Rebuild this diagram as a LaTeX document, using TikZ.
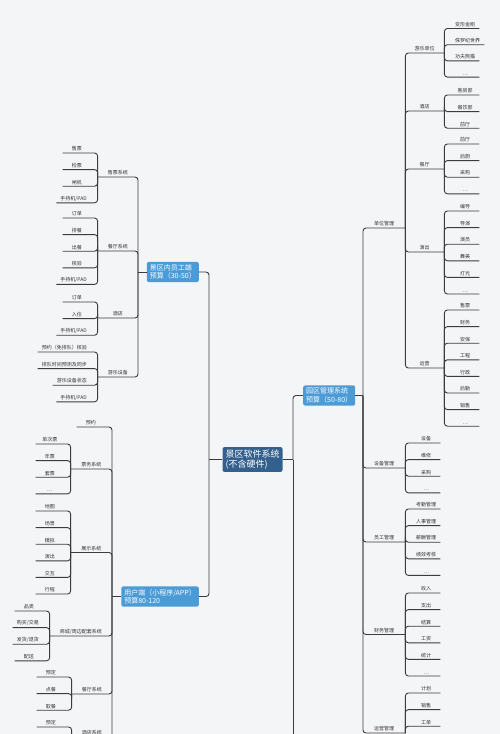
\documentclass[tikz,border=0pt]{standalone}
\usepackage{fontspec}
\setmainfont{Noto Sans CJK SC}
\usetikzlibrary{positioning}
\definecolor{bgpaper}{HTML}{F4F5F7}
\definecolor{linegray}{HTML}{3C3C3C}
\definecolor{txtgray}{HTML}{333333}
\definecolor{rootblue}{HTML}{34608E}
\definecolor{mainblue}{HTML}{4A9BD6}

\begin{document}
\begin{tikzpicture}[x=1pt, y=-1pt,
  conn/.style={draw=linegray, line width=0.9pt, rounded corners=3pt},
  leaf/.style={font=\fontsize{5}{6}\selectfont, text=txtgray, inner xsep=4pt, inner ysep=1.6pt, minimum width=28pt},
  lbl/.style={font=\fontsize{5}{6}\selectfont, text=txtgray, inner xsep=0pt, inner ysep=1.6pt},
  mainbox/.style={fill=mainblue, text=white, rounded corners=2pt, font=\fontsize{7}{8.4}\selectfont, align=left, inner xsep=3pt, inner ysep=2.6pt},
  rootbox/.style={fill=rootblue, text=white, rounded corners=2pt, font=\fontsize{9}{10.5}\selectfont, align=left, inner xsep=3pt, inner ysep=2.5pt}]

\fill[bgpaper] (0,0) rectangle (500,734);
\useasboundingbox (0,0) rectangle (500,734);
\clip (0,0) rectangle (500,734);

% =========================================================
% ROOT
% =========================================================
\node[rootbox] (root) at (252.5,459.5) {景区软件系统\\(不含硬件)};
\coordinate (rootL) at (209,459.5);
\coordinate (rootR) at (293,459.5);
\coordinate (rootNext) at (293,760);
\draw[conn] (root.west) -- (rootL);
\draw[conn] (root.east) -- (rootR);

% =========================================================
% LEFT TOP: staff side
% =========================================================
\node[mainbox, anchor=east] (staff) at (199,272) {景区内员工端\\预算（30-50）};
\coordinate (staffJ) at (138,272);
\draw[conn] (rootL) |- (staff.east);
\draw[conn] (staff.west) -- (staffJ);

\node[lbl, minimum width=40pt, anchor=south east] (ticket) at (138,177) {售票系统};
\node[lbl, minimum width=40pt, anchor=south east] (dining) at (138,251) {餐厅系统};
\node[lbl, minimum width=40pt, anchor=south east] (hotel) at (138,318) {酒店};
\node[lbl, minimum width=40pt, anchor=south east] (ride) at (138,377) {游乐设备};
\foreach \sub in {ticket, dining, hotel, ride}{
  \draw[conn] (staffJ) |- (\sub.south west);
}

\foreach \txt [count=\i from 0] in {售票,检票,闸机,手持机/PAD}{
  \node[leaf, anchor=south east] (ticket-\i) at (91,153+16.6*\i) {\txt};
  \draw[conn] (ticket.south west) |- (ticket-\i.south west);
}
\foreach \txt [count=\i from 0] in {订单,排餐,出餐,核验,手持机/PAD}{
  \node[leaf, anchor=south east] (dining-\i) at (91,218+16.6*\i) {\txt};
  \draw[conn] (dining.south west) |- (dining-\i.south west);
}
\foreach \txt [count=\i from 0] in {订单,入住,手持机/PAD}{
  \node[leaf, anchor=south east] (hotel-\i) at (91,302+16.6*\i) {\txt};
  \draw[conn] (hotel.south west) |- (hotel-\i.south west);
}
\foreach \txt [count=\i from 0] in {预约（免排队）核验,排队时间预测及同步,游乐设备状态,手持机/PAD}{
  \node[leaf, anchor=south east] (ride-\i) at (91,352+16.6*\i) {\txt};
  \draw[conn] (ride.south west) |- (ride-\i.south west);
}

% =========================================================
% LEFT BOTTOM: user side (mini program / app)
% =========================================================
\node[mainbox, anchor=east] (user) at (199,596.5) {用户端（小程序/APP）\\预算80-120};
\coordinate (userJ) at (112,596.5);
\draw[conn] (rootL) |- (user.east);
\draw[conn] (user.west) -- (userJ);

\node[leaf, anchor=south east] (book) at (105,427) {预约};
\node[lbl, minimum width=41pt, anchor=south east] (uticket) at (112,469) {票务系统};
\node[lbl, minimum width=41pt, anchor=south east] (show) at (112,552.5) {展示系统};
\node[lbl, minimum width=62pt, anchor=south east] (shop) at (112,636) {商城/周边配套系统};
\node[lbl, minimum width=40pt, anchor=south east] (udining) at (112,694) {餐厅系统};
\node[lbl, minimum width=40pt, anchor=south east] (uhotel) at (112,737) {酒店系统};
\foreach \sub in {book, uticket, show, shop, udining, uhotel}{
  \draw[conn] (userJ) |- (\sub.south west);
}

\foreach \txt [count=\i from 0] in {单次票,年票,套票,…}{
  \node[leaf, anchor=south east] (uticket-\i) at (64,444+16.6*\i) {\txt};
  \draw[conn] (uticket.south west) |- (uticket-\i.south west);
}
\foreach \txt [count=\i from 0] in {地图,场景,模拟,演出,交互,行程}{
  \node[leaf, anchor=south east] (show-\i) at (64,511+16.6*\i) {\txt};
  \draw[conn] (show.south west) |- (show-\i.south west);
}
\foreach \txt [count=\i from 0] in {品类,购买/交易,发货/退货,配送}{
  \node[leaf, anchor=south east] (shop-\i) at (43,611+16.6*\i) {\txt};
  \draw[conn] (shop.south west) |- (shop-\i.south west);
}
\foreach \txt [count=\i from 0] in {预定,点餐,取餐}{
  \node[leaf, anchor=south east] (udining-\i) at (65,677+16.6*\i) {\txt};
  \draw[conn] (udining.south west) |- (udining-\i.south west);
}
\node[leaf, anchor=south east] (uhotel-0) at (65,727) {预定};
\draw[conn] (uhotel.south west) |- (uhotel-0.south west);

% =========================================================
% RIGHT: park management
% =========================================================
\node[mainbox, anchor=west] (park) at (303,395.5) {园区管理系统\\预算（50-80）};
\coordinate (parkJ) at (363,395.5);
\draw[conn] (rootR) |- (park.west);
\draw[conn] (rootR) -- (rootNext);
\draw[conn] (park.east) -- (parkJ);

\node[lbl, minimum width=42pt, anchor=south west] (unit) at (363,228) {单位管理};
\node[lbl, minimum width=42pt, anchor=south west] (equip) at (363,468) {设备管理};
\node[lbl, minimum width=42pt, anchor=south west] (crew) at (363,542) {员工管理};
\node[lbl, minimum width=42pt, anchor=south west] (finance) at (363,634.5) {财务管理};
\node[lbl, minimum width=42pt, anchor=south west] (opmg) at (363,733) {运营管理};
\foreach \sub in {unit, equip, crew, finance, opmg}{
  \draw[conn] (parkJ) |- (\sub.south east);
}

% units: rides, hotel, restaurant, shows, operations
\node[lbl, minimum width=39pt, anchor=south west] (prides) at (405,53) {游乐单位};
\node[lbl, minimum width=39pt, anchor=south west] (photel) at (405,111) {酒店};
\node[lbl, minimum width=39pt, anchor=south west] (pdining) at (405,169) {餐厅};
\node[lbl, minimum width=39pt, anchor=south west] (pshow) at (405,252) {演出};
\node[lbl, minimum width=39pt, anchor=south west] (pops) at (405,368) {运营};
\foreach \sub in {prides, photel, pdining, pshow, pops}{
  \draw[conn] (unit.south east) |- (\sub.south east);
}

\foreach \txt [count=\i from 0] in {变形金刚,侏罗纪世界,功夫熊猫,…}{
  \node[leaf, anchor=south west] (prides-\i) at (451,28.5+16.2*\i) {\txt};
  \draw[conn] (prides.south east) |- (prides-\i.south east);
}
\foreach \txt [count=\i from 0] in {客房部,餐饮部,前厅}{
  \node[leaf, anchor=south west] (photel-\i) at (451,95+16.6*\i) {\txt};
  \draw[conn] (photel.south east) |- (photel-\i.south east);
}
\foreach \txt [count=\i from 0] in {前厅,后厨,采购,…}{
  \node[leaf, anchor=south west] (pdining-\i) at (451,144+16.6*\i) {\txt};
  \draw[conn] (pdining.south east) |- (pdining-\i.south east);
}
\foreach \txt [count=\i from 0] in {编导,导演,演员,舞美,灯光,…}{
  \node[leaf, anchor=south west] (pshow-\i) at (451,211+16.6*\i) {\txt};
  \draw[conn] (pshow.south east) |- (pshow-\i.south east);
}
\foreach \txt [count=\i from 0] in {售票,财务,安保,工程,行政,后勤,销售,…}{
  \node[leaf, anchor=south west] (pops-\i) at (451,310+16.6*\i) {\txt};
  \draw[conn] (pops.south east) |- (pops-\i.south east);
}

% equipment, staff, finance, operations
\foreach \txt [count=\i from 0] in {设备,维修,采购,…}{
  \node[leaf, anchor=south west] (equip-\i) at (412,443+16.6*\i) {\txt};
  \draw[conn] (equip.south east) |- (equip-\i.south east);
}
\foreach \txt [count=\i from 0] in {考勤管理,人事管理,薪酬管理,绩效考核,…}{
  \node[leaf, anchor=south west] (crew-\i) at (412,509+16.6*\i) {\txt};
  \draw[conn] (crew.south east) |- (crew-\i.south east);
}
\foreach \txt [count=\i from 0] in {收入,支出,结算,工资,统计,…}{
  \node[leaf, anchor=south west] (finance-\i) at (412,593+16.6*\i) {\txt};
  \draw[conn] (finance.south east) |- (finance-\i.south east);
}
\foreach \txt [count=\i from 0] in {计划,销售,工单}{
  \node[leaf, anchor=south west] (opmg-\i) at (412,693+16.6*\i) {\txt};
  \draw[conn] (opmg.south east) |- (opmg-\i.south east);
}

\end{tikzpicture}
\end{document}
